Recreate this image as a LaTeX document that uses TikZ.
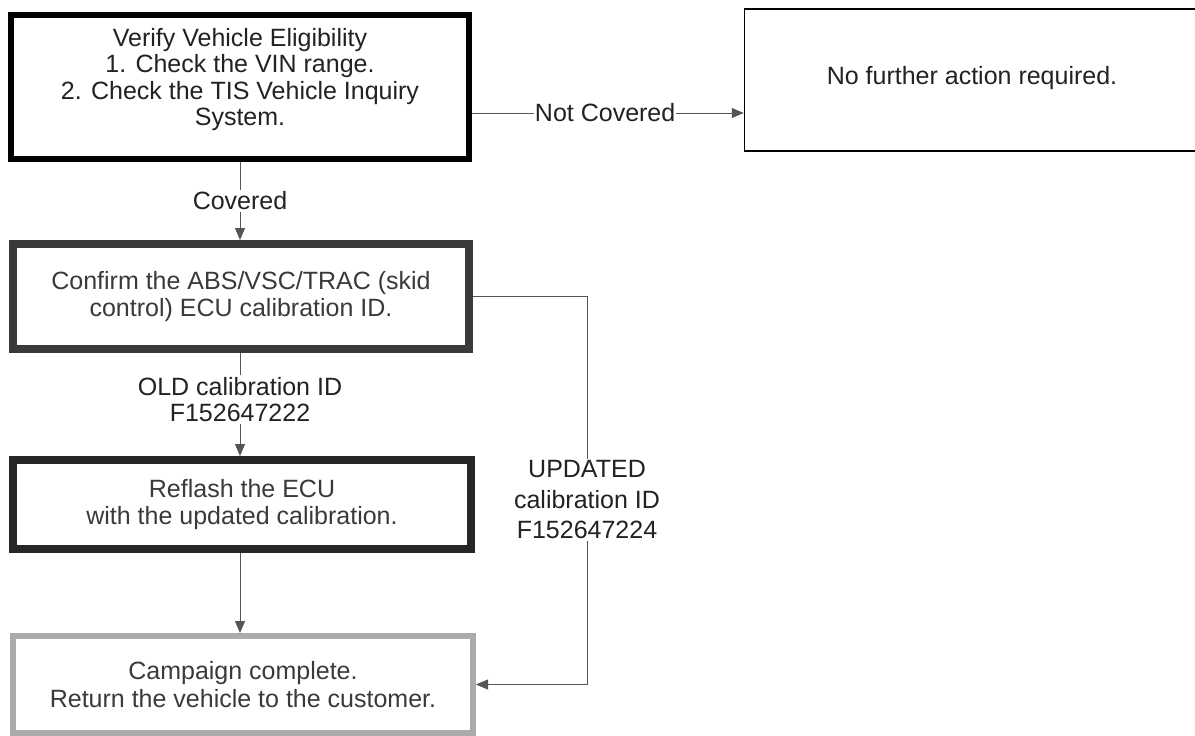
\documentclass[tikz,border=0pt]{standalone}
\usepackage{fontspec}
\setmainfont{Liberation Sans}
\usetikzlibrary{arrows.meta}
\definecolor{txt}{HTML}{222222}
\definecolor{txtg}{HTML}{3A3A3A}
\definecolor{linec}{HTML}{555555}
\definecolor{b3c}{HTML}{3A3A3A}
\definecolor{b4c}{HTML}{262626}
\definecolor{b5c}{HTML}{ABABAB}
\begin{document}
\begin{tikzpicture}[x=1pt,y=-1pt,
  box/.style={draw, rectangle, align=center, inner sep=0pt, font=\fontsize{25}{27}\selectfont, text=txt},
  arr/.style={-{Triangle[length=12pt,width=10pt]}, draw=linec, line width=0.8pt},
  lbl/.style={fill=white, inner sep=2pt, align=center, font=\fontsize{25}{26}\selectfont, text=txt}]
\useasboundingbox (0,0) rectangle (1195,736);
\clip (0,0) rectangle (1195,736);
\fill[white] (0,0) rectangle (1195,736);

\node[box, line width=6pt, minimum width=458pt, minimum height=144pt, font=\fontsize{25}{26.3}\selectfont] (b1) at (240,87)
  {Verify Vehicle Eligibility\\1. Check the VIN range.\\2. Check the TIS Vehicle Inquiry\\System.\\[-6pt]\mbox{}};
\node[box, line width=1.5pt, minimum width=455pt, minimum height=142pt] (b2) at (972,80)
  {No further action required.\\[-17pt]\mbox{}};
\node[box, draw=b3c, text=txtg, line width=8pt, minimum width=456pt, minimum height=105pt] (b3) at (241,296.5)
  {Confirm the ABS/VSC/TRAC (skid\\control) ECU calibration ID.};
\node[box, draw=b4c, text=txtg, line width=8pt, minimum width=458pt, minimum height=89pt] (b4) at (242,504.5)
  {Reflash the ECU\\with the updated calibration.};
\node[box, draw=b5c, text=txtg, line width=6pt, minimum width=460pt, minimum height=97pt, font=\fontsize{25}{28}\selectfont] (b5) at (243,684.5)
  {Campaign complete.\\Return the vehicle to the customer.};

\coordinate (nc) at (600,113);
\coordinate (cx) at (240,0);
\coordinate (rx) at (587,0);

% Not covered
\draw[arr] (b1.east |- nc) -- node[lbl, inner sep=1pt, pos=0.49] {Not Covered} (b2.west |- nc);
% Covered
\draw[arr] (cx |- b1.south) -- node[lbl] {Covered} (cx |- b3.north);
% OLD
\draw[arr] (cx |- b3.south) -- node[lbl, pos=0.45] {OLD calibration ID\\F152647222} (cx |- b4.north);
% b4 -> b5
\draw[arr] (cx |- b4.south) -- (cx |- b5.north);
% UPDATED
\draw[arr] (b3.east) -| (rx |- b5.east) -- (b5.east);
\node[lbl, font=\fontsize{25}{30.5}\selectfont] (upd) at (587,500) {UPDATED\\calibration ID\\F152647224};
\end{tikzpicture}
\end{document}
